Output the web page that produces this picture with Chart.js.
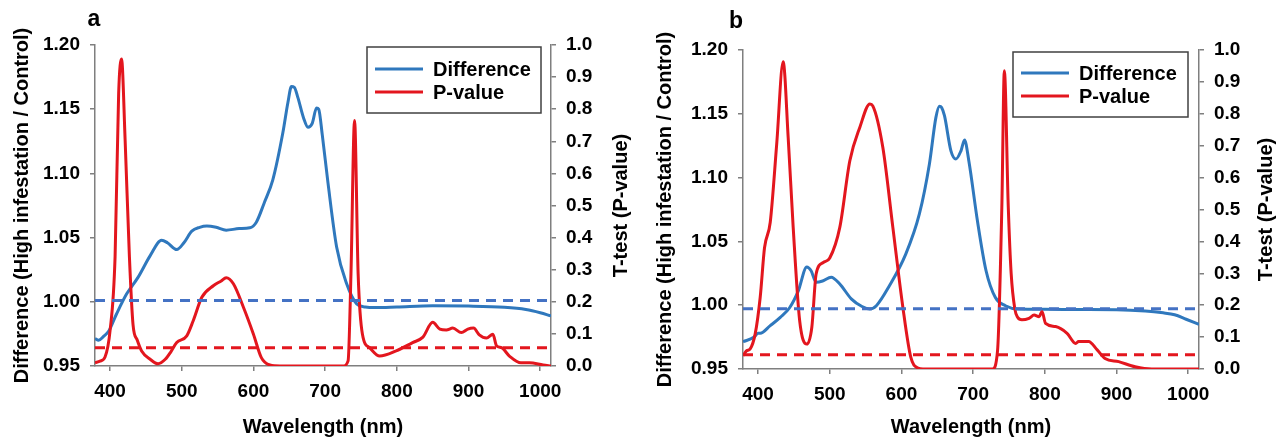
<!DOCTYPE html>
<html>
<head>
<meta charset="utf-8">
<script src="https://cdn.jsdelivr.net/npm/chart.js@4.4.1/dist/chart.umd.min.js"></script>
<style>
  body { margin: 0; background: #fff; }
  canvas { position: absolute; top: 0; }
  #chartA { left: 0; }
  #chartB { left: 640px; }
</style>
</head>
<body>
<canvas id="chartA" width="640" height="444"></canvas>
<canvas id="chartB" width="639" height="444"></canvas>
<script>
// wavelength axis
const X_MIN = 379;
const X_MAX = 1015;
const xTicks = [400, 500, 600, 700, 800, 900, 1000];
const diffTicks = [0.95, 1.0, 1.05, 1.1, 1.15, 1.2];
const pTicks = [0, 0.1, 0.2, 0.3, 0.4, 0.5, 0.6, 0.7, 0.8, 0.9, 1.0];

// panel a : [wavelength, value]
const diffA = [
    [379, 0.9714], [384, 0.970], [391, 0.973], [398, 0.977], [409, 0.9905],
    [423, 1.006], [439, 1.019], [456, 1.036], [472, 1.048], [480, 1.046],
    [493, 1.0407], [503, 1.046], [514, 1.055], [525, 1.058], [535, 1.059],
    [548, 1.058], [562, 1.0558], [580, 1.057], [595, 1.0576], [604, 1.062],
    [615, 1.077], [627, 1.095], [641, 1.1316], [648, 1.155], [653, 1.1676],
    [657, 1.167], [662, 1.159], [670, 1.143], [676, 1.136], [682, 1.139],
    [688, 1.151], [691, 1.150], [696, 1.13], [704, 1.0924], [716, 1.0427],
    [730, 1.014], [744, 0.9984], [756, 0.996], [770, 0.9955], [800, 0.996],
    [850, 0.997], [900, 0.9967], [950, 0.9957], [980, 0.994], [1000, 0.9915],
    [1015, 0.989]
];
const pvalA = [
    [379, 0.010], [386, 0.015], [393, 0.028], [400, 0.11], [407, 0.34],
    [412, 0.85], [416, 0.956], [421, 0.705], [427, 0.34], [432, 0.13],
    [438, 0.08], [444, 0.047], [456, 0.021], [467, 0.007], [477, 0.021],
    [485, 0.045], [493, 0.073], [507, 0.094], [516, 0.141], [528, 0.214],
    [544, 0.25], [555, 0.265], [562, 0.275], [572, 0.256], [586, 0.183],
    [600, 0.099], [611, 0.026], [623, 0.003], [637, 0.0], [725, 0.0],
    [732, 0.016], [736, 0.287], [741, 0.765], [746, 0.287], [752, 0.099],
    [762, 0.057], [776, 0.031], [799, 0.047], [822, 0.073], [836, 0.089],
    [850, 0.136], [860, 0.115], [869, 0.112], [878, 0.118], [890, 0.104],
    [899, 0.115], [907, 0.118], [915, 0.097], [925, 0.087], [934, 0.099],
    [939, 0.063], [946, 0.057], [957, 0.031], [973, 0.010], [985, 0.010],
    [1004, 0.003], [1015, 0.0]
];
const diffRefA = 1.001;
const pRefA = 0.057;

// panel b
const diffB = [
    [379, 0.9714], [394, 0.9748], [400, 0.978], [403, 0.978], [417, 0.984],
    [431, 0.9905], [444, 0.998], [456, 1.011], [468, 1.030], [474, 1.027],
    [481, 1.018], [490, 1.019], [502, 1.022], [514, 1.0166], [530, 1.005],
    [545, 0.999], [556, 0.997], [565, 0.9996], [583, 1.015], [606, 1.040],
    [625, 1.0715], [639, 1.1107], [648, 1.147], [653, 1.156], [656, 1.155],
    [660, 1.1485], [669, 1.121], [676, 1.1146], [683, 1.121], [688, 1.1295],
    [694, 1.113], [706, 1.066], [718, 1.027], [731, 1.006], [745, 0.9996],
    [762, 0.997], [800, 0.9968], [850, 0.9966], [900, 0.9965], [940, 0.9955],
    [965, 0.994], [981, 0.9925], [997, 0.989], [1015, 0.985]
];
const pvalB = [
    [379, 0.042], [384, 0.057], [389, 0.063], [396, 0.11], [403, 0.225],
    [409, 0.38], [417, 0.46], [426, 0.705], [435, 0.963], [442, 0.726],
    [449, 0.444], [458, 0.152], [468, 0.078], [475, 0.131], [481, 0.298],
    [491, 0.334], [500, 0.348], [514, 0.444], [528, 0.653], [542, 0.758],
    [556, 0.831], [560, 0.825], [574, 0.695], [588, 0.444], [602, 0.193],
    [613, 0.037], [623, 0.003], [630, 0.0], [727, 0.0], [734, 0.057],
    [740, 0.507], [743.5, 0.935], [749, 0.507], [753, 0.30], [758, 0.19],
    [762, 0.162], [768, 0.154], [778, 0.159], [785, 0.169], [792, 0.164],
    [796, 0.18], [801, 0.143], [815, 0.133], [831, 0.112], [843, 0.08],
    [847, 0.086], [861, 0.086], [873, 0.06], [884, 0.033], [903, 0.023],
    [926, 0.007], [949, 0.0], [1015, 0.0]
];
const diffRefB = 0.9972;
const pRefB = 0.045;

const BLUE = "#2f78bd";
const BLUE_DASH = "#4472c4";
const RED = "#e3161e";
const AXIS_COLOR = "#7f7f7f";
const FONT = "'Liberation Sans', Arial, sans-serif";

// legend box, panel letter and the right axis title (reads bottom to top)
const boxLegend = {
    id: "boxLegend",
    afterDraw(chart, args, opts) {
        const { ctx, chartArea } = chart;
        ctx.save();

        ctx.strokeStyle = "#404040";
        ctx.lineWidth = 1.5;
        ctx.strokeRect(opts.x, opts.y, opts.w, opts.h);

        ctx.font = `bold 20px ${FONT}`;
        ctx.textBaseline = "middle";
        ctx.fillStyle = "#000";
        const items = chart.data.datasets.filter((d) => d.inLegend);
        items.forEach((d, i) => {
            const y = opts.rowY[i];
            ctx.strokeStyle = d.borderColor;
            ctx.lineWidth = 3;
            ctx.beginPath();
            ctx.moveTo(opts.x + 8, y);
            ctx.lineTo(opts.x + 56, y);
            ctx.stroke();
            ctx.fillText(d.label, opts.x + 66, y + 1);
        });

        ctx.font = `bold 23px ${FONT}`;
        ctx.textAlign = "center";
        ctx.fillText(opts.letter, opts.letterX, opts.letterY);

        ctx.font = `bold 20px ${FONT}`;
        ctx.translate(opts.rightTitleX, (chartArea.top + chartArea.bottom) / 2);
        ctx.rotate(-Math.PI / 2);
        ctx.fillText("T-test (P-value)", 0, 0);
        ctx.restore();
    },
};

const pairs = (arr) => arr.map(([x, y]) => ({ x, y }));

function buildChart(id, p) {
    const tickFont = { family: FONT, size: 19, weight: "bold" };
    const titleFont = { family: FONT, size: 20, weight: "bold" };
    const grid = { drawOnChartArea: false, tickLength: 5, color: AXIS_COLOR, lineWidth: 1.5 };
    const border = { color: AXIS_COLOR, width: 1.5 };

    return new Chart(document.getElementById(id), {
        type: "line",
        data: {
            datasets: [
                {
                    label: "Difference",
                    inLegend: true,
                    data: pairs(p.diff),
                    yAxisID: "y",
                    borderColor: BLUE,
                    borderWidth: 3,
                    order: 3,
                },
                {
                    label: "P-value",
                    inLegend: true,
                    data: pairs(p.pval),
                    yAxisID: "y1",
                    borderColor: RED,
                    borderWidth: 3,
                    order: 2,
                },
                {
                    label: "diff ref",
                    data: [{ x: X_MIN, y: p.diffRef }, { x: X_MAX, y: p.diffRef }],
                    yAxisID: "y",
                    borderColor: BLUE_DASH,
                    borderWidth: 3,
                    borderDash: [10, 7],
                    order: 1,
                },
                {
                    label: "p ref",
                    data: [{ x: X_MIN, y: p.pRef }, { x: X_MAX, y: p.pRef }],
                    yAxisID: "y1",
                    borderColor: RED,
                    borderWidth: 3,
                    borderDash: [10, 7],
                    order: 1,
                },
            ],
        },
        options: {
            responsive: false,
            animation: false,
            cubicInterpolationMode: "monotone",
            elements: { point: { radius: 0 } },
            layout: { padding: { top: p.top, left: 0, right: 0, bottom: 0 } },
            plugins: {
                legend: { display: false },
                tooltip: { enabled: false },
                boxLegend: p.legend,
            },
            scales: {
                x: {
                    type: "linear",
                    min: X_MIN,
                    max: X_MAX,
                    afterBuildTicks: (s) => { s.ticks = xTicks.map((v) => ({ value: v })); },
                    afterFit: (s) => { s.height = p.xHeight; },
                    grid,
                    border,
                    ticks: {
                        font: tickFont, color: "#000", padding: 9, maxRotation: 0, autoSkip: false,
                        callback: (v) => String(v),
                    },
                    title: {
                        display: true,
                        text: "Wavelength (nm)",
                        font: titleFont,
                        color: "#000",
                        padding: { top: 0, bottom: 5 },
                    },
                },
                y: {
                    position: "left",
                    min: 0.95,
                    max: 1.2,
                    afterBuildTicks: (s) => { s.ticks = diffTicks.map((v) => ({ value: v })); },
                    afterFit: (s) => { s.width = p.leftW; },
                    grid,
                    border,
                    ticks: { font: tickFont, color: "#000", padding: 10, callback: (v) => v.toFixed(2) },
                    title: {
                        display: true,
                        text: "Difference (High infestation / Control)",
                        font: titleFont,
                        color: "#000",
                        padding: { top: p.leftTitlePad, bottom: 0 },
                    },
                },
                y1: {
                    position: "right",
                    min: 0,
                    max: 1,
                    afterBuildTicks: (s) => { s.ticks = pTicks.map((v) => ({ value: v })); },
                    afterFit: (s) => { s.width = p.rightW; },
                    grid,
                    border,
                    ticks: { font: tickFont, color: "#000", padding: 10, callback: (v) => v.toFixed(1) },
                },
            },
        },
        plugins: [boxLegend],
    });
}

buildChart("chartA", {
    diff: diffA, pval: pvalA, diffRef: diffRefA, pRef: pRefA,
    top: 45, xHeight: 78, leftW: 95, rightW: 89,
    leftTitlePad: 10,
    legend: {
        x: 367, y: 47, w: 174, h: 66, rowY: [69, 92],
        letter: "a", letterX: 94, letterY: 20, rightTitleX: 621,
    },
});

buildChart("chartB", {
    diff: diffB, pval: pvalB, diffRef: diffRefB, pRef: pRefB,
    top: 50, xHeight: 75, leftW: 103, rightW: 80,
    leftTitlePad: 13,
    legend: {
        x: 373, y: 52, w: 175, h: 65, rowY: [73, 96],
        letter: "b", letterX: 96, letterY: 22, rightTitleX: 626,
    },
});
</script>
</body>
</html>
